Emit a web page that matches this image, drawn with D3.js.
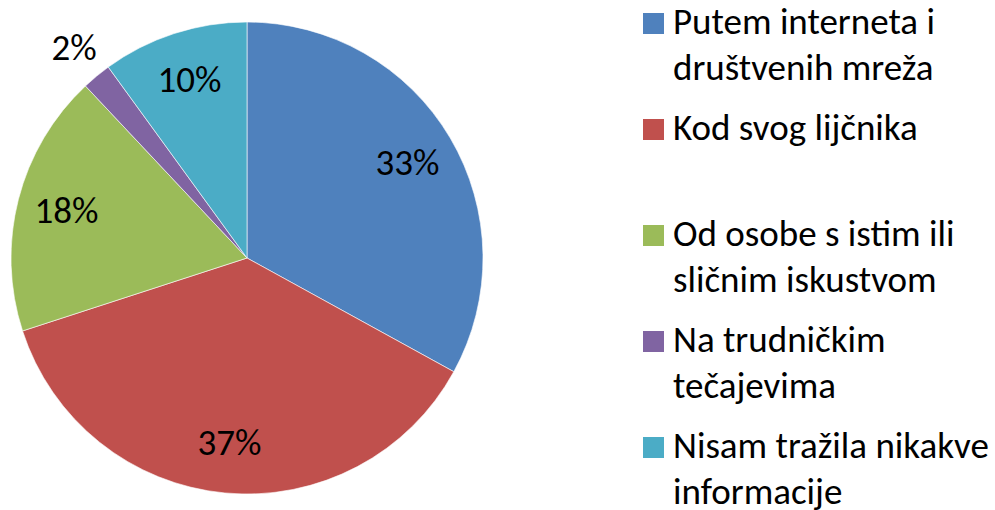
<!DOCTYPE html>
<html>
<head>
<meta charset="utf-8">
<script src="https://cdn.jsdelivr.net/npm/d3@7"></script>
<style>
  html, body { margin: 0; padding: 0; background: #fff; }
  svg { display: block; }
  text { font-family: Carlito, "Open Sans", sans-serif; fill: #000; }
</style>
</head>
<body>
<svg id="chart" width="995" height="510"></svg>
<script>
const categories = [
  ["Putem interneta i", "društvenih mreža"],
  ["Kod svog lijčnika"],
  ["Od osobe s istim ili", "sličnim iskustvom"],
  ["Na trudničkim", "tečajevima"],
  ["Nisam tražila nikakve", "informacije"]
];
const values = [33, 37, 18, 2, 10];
const valueLabels = ["33%", "37%", "18%", "2%", "10%"];
const colors = ["#4F81BD", "#C0504D", "#9BBB59", "#8064A2", "#4BACC6"];

const svg = d3.select("#chart");
const cx = 247, cy = 258, R = 236;

const pie = d3.pie().value(d => d).sort(null);
const arcs = pie(values);
const arc = d3.arc().innerRadius(0).outerRadius(R);
const labelArcIn = d3.arc().innerRadius(R * 0.79).outerRadius(R * 0.79);
const labelArcOut = d3.arc().innerRadius(R * 1.15).outerRadius(R * 1.15);

const g = svg.append("g").attr("transform", `translate(${cx},${cy})`);
g.selectAll("path.slice")
  .data(arcs)
  .enter().append("path")
  .attr("class", "slice")
  .attr("d", arc)
  .attr("fill", (d, i) => colors[i])
  .attr("stroke", "#ffffff")
  .attr("stroke-width", 0.6);

g.selectAll("text.lbl")
  .data(arcs)
  .enter().append("text")
  .attr("class", "lbl")
  .attr("transform", d => {
    const a = (d.endAngle - d.startAngle) < 0.2 ? labelArcOut : labelArcIn;
    const [x, y] = a.centroid(d);
    return `translate(${x},${y})`;
  })
  .attr("text-anchor", "middle")
  .attr("dy", "0.31em")
  .style("font-size", "37px")
  .text((d, i) => valueLabels[i]);

// Legend
const legendY = d3.scaleLinear().domain([0, 4]).range([34, 458]);
const lineH = 46;
const lg = svg.append("g");
const items = lg.selectAll("g.item")
  .data(categories)
  .enter().append("g")
  .attr("class", "item")
  .attr("transform", (d, i) => `translate(0,${legendY(i)})`);

items.append("rect")
  .attr("x", 643).attr("y", -21)
  .attr("width", 21).attr("height", 21)
  .attr("fill", (d, i) => colors[i]);

items.each(function(lines) {
  const t = d3.select(this).append("text")
    .attr("x", 673).attr("y", 0)
    .style("font-size", "37px");
  lines.forEach((ln, j) => {
    t.append("tspan").attr("x", 673).attr("y", j * lineH).text(ln);
  });
});
</script>
</body>
</html>
